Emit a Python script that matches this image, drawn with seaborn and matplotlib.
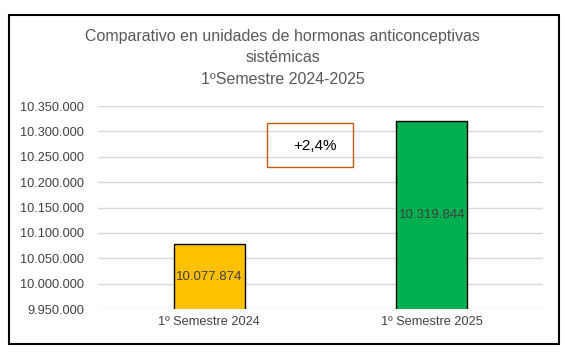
import numpy as np
import pandas as pd
import matplotlib
matplotlib.use('Agg')
import matplotlib.pyplot as plt
from matplotlib.patches import Rectangle
from matplotlib.ticker import FuncFormatter
import seaborn as sns

# data
semestres = ['1º Semestre 2024', '1º Semestre 2025']
unidades = [10077874, 10319844]
colores = ['#FFC000', '#00B050']
variacion = '+2,4%'
titulo = 'Comparativo en unidades de hormonas anticonceptivas\nsistémicas\n1ºSemestre 2024-2025'

df = pd.DataFrame({'semestre': semestres, 'unidades': unidades})

sns.set_style('white')
plt.rcParams['font.family'] = ['Liberation Sans', 'DejaVu Sans']

fig = plt.figure(figsize=(5.65, 3.56), dpi=100)
ax = fig.add_axes([98/565, 1-309/356, 445/565, 203/356])

sns.barplot(data=df, x='semestre', y='unidades', hue='semestre',
            palette=colores, saturation=1, width=0.32, edgecolor='black', linewidth=1,
            legend=False, ax=ax, zorder=3)

ax.set_ylim(9950000, 10350000)
ax.set_yticks(np.arange(9950000, 10350001, 50000))
ax.yaxis.set_major_formatter(FuncFormatter(lambda v, p: f'{int(v):,}'.replace(',', '.')))
ax.grid(axis='y', color='#d9d9d9', linewidth=1, zorder=0)
ax.set_xlim(-0.5, 1.5)
ax.set_xlabel('')
ax.set_ylabel('')
for s in ax.spines.values():
    s.set_visible(False)
ax.tick_params(axis='both', length=0, labelsize=9.2, colors='#404040', pad=5)
ax.tick_params(axis='y', pad=10)

# data labels in the middle of the bars
for i, v in enumerate(unidades):
    ax.text(i, (9950000 + v) / 2, f'{v:,}'.replace(',', '.'), ha='center', va='center',
            fontsize=9.5, color='#404040', zorder=4)

# variation box
ax.add_patch(Rectangle((0.38, 0.70), 0.193, 0.216, transform=ax.transAxes,
                       fill=False, edgecolor='#C55A11', linewidth=1, zorder=5))
ax.text(0.487, 0.805, variacion, transform=ax.transAxes, ha='center', va='center',
        fontsize=11, color='black', zorder=6)

fig.text(0.5, 1-58/356, titulo, ha='center', va='center', fontsize=11.5,
         color='#595959', linespacing=1.5)

# outer border
fig.patches.append(Rectangle((9/565, 1-344/356), 550/565, 329/356, transform=fig.transFigure,
                             fill=False, edgecolor='black', linewidth=1.5))

fig.savefig('out.png', dpi=100)
